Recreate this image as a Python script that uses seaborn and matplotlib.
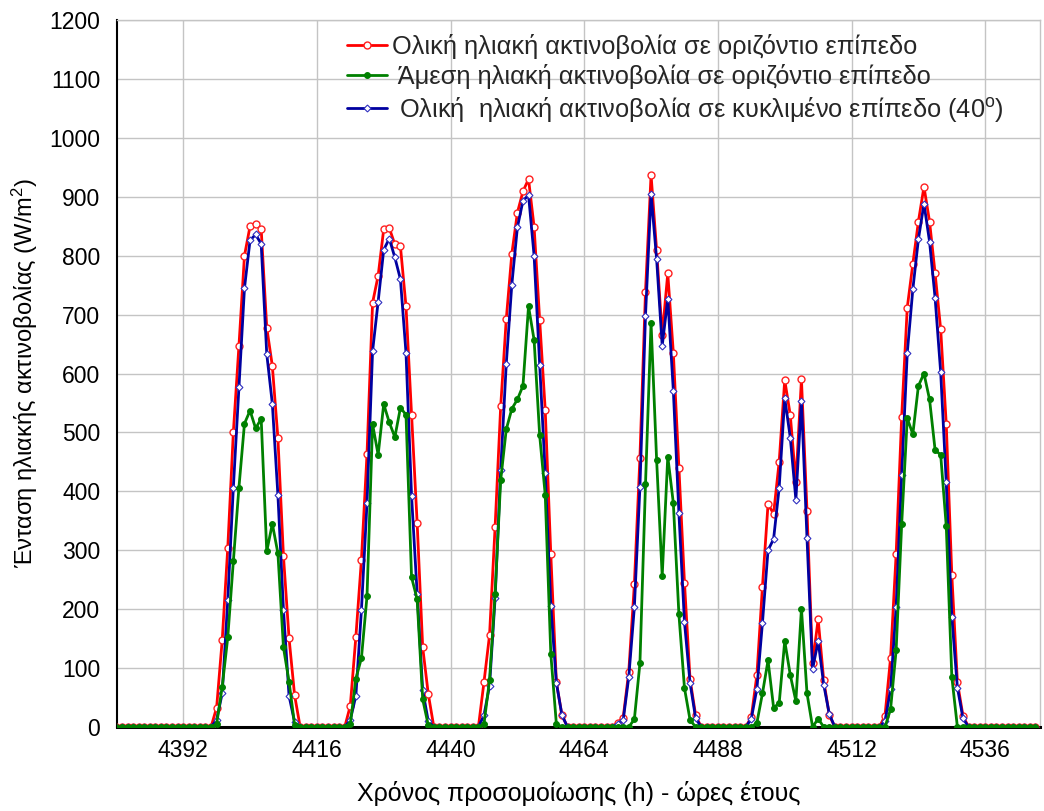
import numpy as np
import pandas as pd
import matplotlib
matplotlib.use("Agg")
import matplotlib.pyplot as plt
from matplotlib.ticker import MultipleLocator
import seaborn as sns

# Simulation hours shown on the x axis (hour of the year)
hour_first, hour_last = 4380, 4545
# First daylight hour (06:00) of each of the six simulated days
day_start = [4398, 4422, 4446, 4470, 4494, 4518]

# Hourly irradiance from 06:00 to 20:00 for each day (W/m2)
total_horizontal = [
    [33, 147, 304, 500, 646, 800, 850, 854, 845, 678, 613, 491, 290, 151, 54],
    [36, 153, 284, 463, 720, 766, 845, 847, 819, 816, 714, 530, 347, 135, 56],
    [76, 156, 340, 544, 692, 803, 873, 909, 930, 849, 691, 538, 293, 76, 20],
    [7, 16, 94, 242, 457, 739, 937, 809, 665, 770, 635, 440, 245, 81, 20],
    [17, 88, 238, 378, 362, 450, 589, 529, 415, 590, 367, 108, 183, 79, 20],
    [19, 117, 293, 527, 712, 786, 858, 917, 858, 770, 675, 514, 258, 76, 19],
]
direct_horizontal = [
    [5, 68, 152, 281, 406, 515, 537, 507, 523, 298, 345, 295, 135, 77, 4],
    [5, 82, 117, 222, 514, 462, 548, 517, 492, 542, 530, 254, 217, 47, 3],
    [5, 80, 226, 419, 505, 540, 556, 579, 714, 657, 495, 394, 124, 5, 0],
    [0, 0, 0, 13, 108, 412, 686, 453, 256, 459, 380, 191, 66, 12, 0],
    [0, 7, 57, 113, 33, 40, 146, 88, 44, 201, 57, 0, 14, 0, 0],
    [0, 30, 130, 345, 524, 497, 579, 600, 556, 470, 462, 341, 85, 0, 0],
]
total_tilted = [
    [12, 57, 215, 406, 577, 745, 826, 836, 820, 633, 549, 394, 199, 53, 8],
    [12, 53, 199, 380, 638, 722, 810, 829, 797, 760, 635, 392, 226, 62, 10],
    [20, 70, 219, 436, 616, 751, 848, 893, 903, 800, 615, 431, 206, 75, 20],
    [5, 12, 85, 203, 407, 698, 905, 794, 647, 727, 571, 363, 178, 75, 15],
    [14, 65, 177, 300, 319, 406, 558, 491, 386, 554, 320, 98, 146, 72, 22],
    [10, 64, 203, 428, 635, 743, 828, 888, 824, 728, 602, 415, 187, 67, 15],
]

labels = [
    "Ολική ηλιακή ακτινοβολία σε οριζόντιο επίπεδο",
    " Άμεση ηλιακή ακτινοβολία σε οριζόντιο επίπεδο",
    " Ολική  ηλιακή ακτινοβολία σε κυκλιμένο επίπεδο (40$^{\\mathregular{o}}$)",
]


def hourly_series(daily_values):
    """Place the daytime values on the full hourly time axis (night = 0)."""
    hours = np.arange(hour_first, hour_last + 1)
    values = np.zeros(hours.size)
    for start, vals in zip(day_start, daily_values):
        idx = start - hour_first
        values[idx:idx + len(vals)] = vals
    return hours, values


hours, red_vals = hourly_series(total_horizontal)
_, green_vals = hourly_series(direct_horizontal)
_, blue_vals = hourly_series(total_tilted)

df = pd.DataFrame({"hour": hours, "total_h": red_vals,
                   "direct_h": green_vals, "total_t": blue_vals})

sns.set_theme(style="white")
plt.rcParams["font.family"] = ["Liberation Sans", "DejaVu Sans"]
plt.rcParams["mathtext.default"] = "regular"

fig = plt.figure(figsize=(10.44, 8.11), dpi=100)
ax = fig.add_axes([0.112, 0.1036, 0.884, 0.8717])

sns.lineplot(data=df, x="hour", y="total_h", ax=ax, color="#ff0000",
             linewidth=2.0, marker="o", markersize=5,
             markerfacecolor="white", markeredgecolor="#ff2020",
             markeredgewidth=1.0, label=labels[0], zorder=3)
sns.lineplot(data=df, x="hour", y="direct_h", ax=ax, color="#008000",
             linewidth=2.0, marker="o", markersize=4.2,
             markerfacecolor="#008000", markeredgecolor="#008000",
             label=labels[1], zorder=5)
sns.lineplot(data=df, x="hour", y="total_t", ax=ax, color="#0000a0",
             linewidth=2.0, marker="D", markersize=3.5,
             markerfacecolor="white", markeredgecolor="#3030c0",
             markeredgewidth=0.8, label=labels[2], zorder=4)

ax.set_xlim(4380.1, 4545.8)
ax.set_ylim(0, 1200)
ax.set_xticks(np.arange(4392, 4537, 24))
ax.set_yticks(np.arange(0, 1201, 100))
ax.xaxis.set_minor_locator(MultipleLocator(4))
ax.yaxis.set_minor_locator(MultipleLocator(20))

ax.grid(True, which="major", color="#c4c4c4", linewidth=1.0)
ax.set_axisbelow(True)

ax.tick_params(axis="both", which="major", direction="in", length=5,
               width=1.2, color="black", labelsize=16.5, labelcolor="black")
ax.tick_params(axis="both", which="minor", direction="in", length=3,
               width=1.0, color="black")
ax.tick_params(axis="y", which="major", pad=12)
ax.tick_params(axis="x", which="major", pad=9)

for side in ("left", "bottom"):
    ax.spines[side].set_color("black")
ax.spines["left"].set_linewidth(1.5)
ax.spines["bottom"].set_linewidth(2.2)
for side in ("top", "right"):
    ax.spines[side].set_color("#c4c4c4")
    ax.spines[side].set_linewidth(1.0)

ax.set_xlabel("Χρόνος προσομοίωσης (h) - ώρες έτους", fontsize=18,
              color="black", labelpad=13)
ax.set_ylabel("Ένταση ηλιακής ακτινοβολίας (W/m$^{2}$)", fontsize=17,
              color="black", labelpad=7)

leg = ax.legend(loc="upper left", bbox_to_anchor=(0.238, 0.995),
                frameon=False, fontsize=18.3, handlelength=1.6,
                handletextpad=0.2, labelspacing=0.22, borderaxespad=0.0)

fig.savefig("out.png", dpi=100)
